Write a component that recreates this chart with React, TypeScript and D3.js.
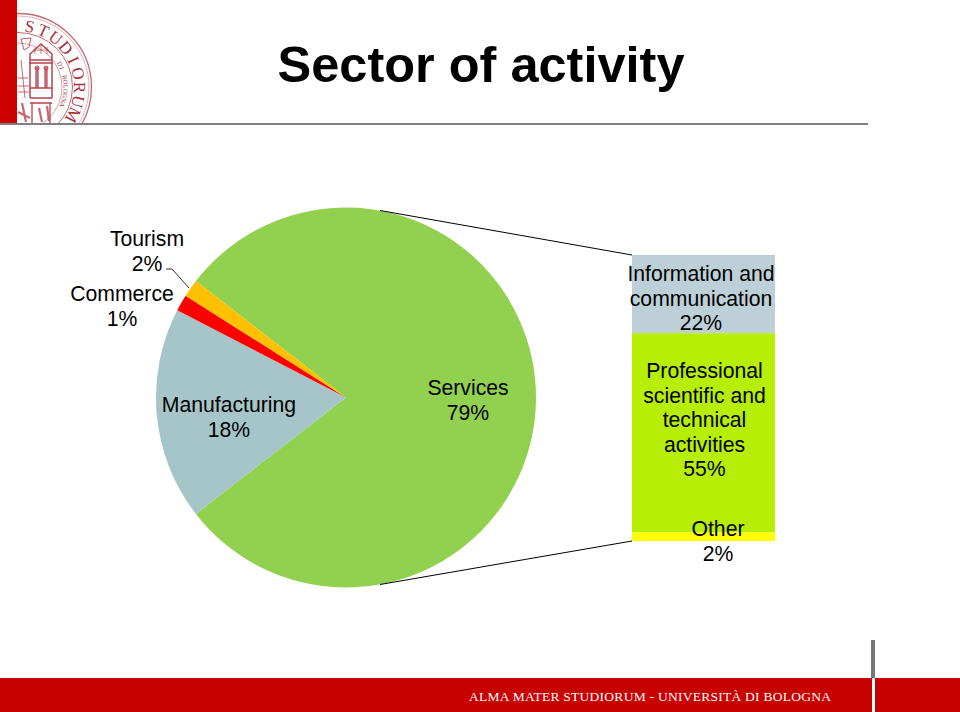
import { arc, pie, scaleLinear } from "d3";

const width = 960;
const height = 712;

const pieNames = ["Services", "Manufacturing", "Commerce", "Tourism"];
const pieValues = [79, 18.1, 1.4, 1.5];
const pieColors = ["#92d050", "#a5c5c8", "#ff0000", "#ffc000"];

const barNames = ["Information and communication", "Professional scientific and technical activities", "Other"];
const barValues = [21.6, 55, 2.4];
const barColors = ["#bdd0d7", "#b7ee05", "#ffff00"];

const FONT = "'Liberation Sans', Arial, sans-serif";
const SERIF = "'Liberation Serif', serif";
const LOGO = "#b5444c";

const cx = 346;
const cy = 397.5;
const radius = 190;

const barLeft = 632;
const barRight = 775;
const barTop = 255;
const barBottom = 541;

const sealX = 18;
const sealY = 87;

// Each entry is one centred multi-line label
const labels = [
  { x: 147, y: 246, lines: ["Tourism", "2%"] },
  { x: 122, y: 301, lines: ["Commerce", "1%"] },
  { x: 229, y: 412, lines: ["Manufacturing", "18%"] },
  { x: 468, y: 395, lines: ["Services", "79%"] },
  { x: 701, y: 281, lines: ["Information and", "communication", "22%"] },
  { x: 704.5, y: 378, lines: ["Professional", "scientific and", "technical", "activities", "55%"] },
  { x: 718, y: 536, lines: ["Other", "2%"] },
];

// Seal lettering runs round the ring, one rotated glyph per letter
const ringText = (word: string, from: number, to: number, r: number, size: number, prefix: string) => {
  const angle = scaleLinear().domain([0, word.length - 1]).range([from, to]);
  return word.split("").map((ch, i) => (
    <text
      key={prefix + i}
      textAnchor="middle"
      fontFamily={SERIF}
      fontSize={size}
      fill="#a8303c"
      transform={`translate(${sealX},${sealY}) rotate(${angle(i)}) translate(0,${-r})`}
    >
      {ch}
    </text>
  ));
};

const Seal = () => (
  <g clipPath="url(#sealClip)">
    <defs>
      <clipPath id="sealClip">
        <rect x={17} y={0} width={90} height={123} />
      </clipPath>
    </defs>
    <g fill="none" stroke={LOGO}>
      <circle cx={sealX} cy={sealY} r={73.5} strokeWidth={1.3} opacity={0.8} />
      <circle cx={sealX} cy={sealY} r={71} strokeWidth={0.6} opacity={0.7} />
      <circle cx={sealX} cy={sealY} r={54.5} strokeWidth={1} opacity={0.8} />
      <circle cx={sealX} cy={sealY} r={44} strokeWidth={0.7} opacity={0.7} />
      <path d="M 30 98 V 54 L 41 44 L 52 54 V 98 M 30 60 H 52 M 29 63 H 53 M 30 88 H 52 M 30 98 H 52" strokeWidth={1.5} />
      <path d="M 33 50 H 49 M 35 54 V 47 M 41 54 V 45 M 47 54 V 47" strokeWidth={1} opacity={0.7} />
      <path d="M 37 67 V 88 M 46 67 V 88" strokeWidth={3.5} opacity={0.8} />
      <circle cx={37} cy={68} r={2} strokeWidth={1} />
      <circle cx={46} cy={68} r={2} strokeWidth={1} />
      <path d="M 30 103 H 52 M 32 103 V 123 M 50 103 V 123" strokeWidth={1.3} />
      <path d="M 21 60 L 25 98 M 18 78 H 28 M 18 86 H 29 M 18 92 H 29" strokeWidth={1} opacity={0.8} />
      <path d="M 21 39 L 31 38 L 29 47 L 24 50 Z" strokeWidth={0.9} />
      <path d="M 22 103 L 26 122 M 39 108 L 42 122 M 47 106 L 49 121 M 18 112 L 30 118" strokeWidth={2.2} opacity={0.8} />
    </g>
    {ringText("STUDIORUM", 11, 117, 56, 17, "s")}
    {ringText("DI BOLOGNA", 61, 112, 45.5, 6.5, "b")}
  </g>
);

export default function App() {
  const start = Math.PI / 2 - Math.PI * (pieValues[0] / 100);
  const slices = pie<number>().sort(null).startAngle(start).endAngle(start + 2 * Math.PI)(pieValues);
  const sliceArc = arc<any>().innerRadius(0).outerRadius(radius);

  const total = barValues.reduce((a, b) => a + b, 0);
  const barY = scaleLinear().domain([0, total]).range([barTop, barBottom]);
  let running = 0;
  const segments = barValues.map((v) => {
    const from = running;
    running += v;
    return { y0: barY(from), y1: barY(running) };
  });

  return (
    <svg
      width={width}
      height={height}
      viewBox={`0 0 ${width} ${height}`}
      style={{ position: "absolute", left: 0, top: 0, background: "#fff" }}
    >
      <Seal />
      <rect x={0} y={0} width={17} height={123} fill="#cc0000" />
      <rect x={0} y={123} width={868} height={2} fill="#808080" />
      <text x={481} y={82} textAnchor="middle" fontFamily={FONT} fontWeight={700} fontSize={50.5} fill="#000">
        Sector of activity
      </text>

      <g transform={`translate(${cx},${cy})`}>
        {slices.map((s, i) => (
          <path key={pieNames[i]} d={sliceArc(s) ?? ""} fill={pieColors[i]} />
        ))}
      </g>

      {segments.map((s, i) => (
        <rect
          key={barNames[i]}
          x={barLeft}
          y={s.y0}
          width={barRight - barLeft}
          height={s.y1 - s.y0}
          fill={barColors[i]}
        />
      ))}

      <line x1={380} y1={210.5} x2={barLeft} y2={barTop} stroke="#000" strokeWidth={1} />
      <line x1={380} y1={584.5} x2={barLeft} y2={barBottom} stroke="#000" strokeWidth={1} />
      <path d="M 166 269 H 172 L 189 288" fill="none" stroke="#333" strokeWidth={1} />

      {labels.map((l) => (
        <text key={l.lines[0]} textAnchor="middle" fontFamily={FONT} fontSize={21.2} fill="#000">
          {l.lines.map((t, i) => (
            <tspan key={i} x={l.x} y={l.y + i * 24.6}>
              {t}
            </tspan>
          ))}
        </text>
      ))}

      <rect x={0} y={678} width={width} height={34} fill="#c80000" />
      <rect x={871} y={640} width={4} height={38} fill="#777777" />
      <rect x={872} y={678} width={3} height={34} fill="#ffffff" />
      <text
        x={469}
        y={701}
        fontFamily={SERIF}
        fontSize={13.5}
        fill="#fff"
        textLength={362}
        lengthAdjust="spacing"
      >
        ALMA MATER STUDIORUM - UNIVERSITÀ DI BOLOGNA
      </text>
    </svg>
  );
}
